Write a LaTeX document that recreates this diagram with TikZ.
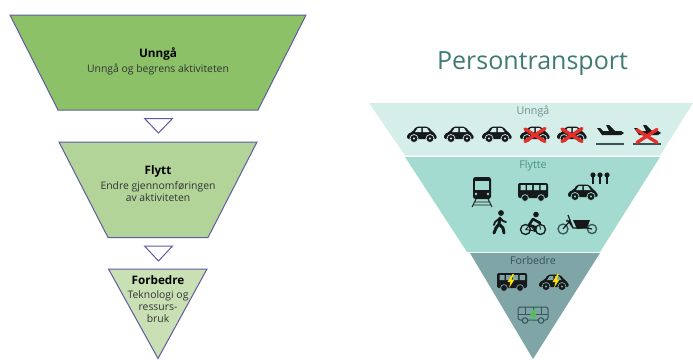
\documentclass[tikz,border=0pt]{standalone}
\usepackage{fontspec}
\setmainfont{Open Sans}
\definecolor{edgeP}{HTML}{5F5C9F}
\definecolor{gA}{HTML}{8CC168}
\definecolor{gB}{HTML}{B2D498}
\definecolor{gC}{HTML}{C9E0B5}
\definecolor{tA}{HTML}{D5EEEA}
\definecolor{tB}{HTML}{A3DBD1}
\definecolor{tC}{HTML}{7FA5A7}
\definecolor{titleC}{HTML}{3F7A74}
\definecolor{labA}{HTML}{6F8F8C}
\definecolor{labB}{HTML}{4F8F88}
\definecolor{labC}{HTML}{34565A}
\definecolor{ink}{HTML}{15191A}
\definecolor{crossR}{HTML}{E5302A}
\tikzset{
  x=1pt,y=-1pt,
  band/.style={draw=edgeP,line width=1pt,line join=miter},
  lefttitle/.style={font=\fontsize{11.7}{13}\selectfont\bfseries,text=black,inner sep=0pt},
  lefttext/.style={font=\fontsize{10.4}{12.4}\selectfont,text=black!80,inner sep=0pt,align=center},
  sidelabel/.style={font=\fontsize{10.7}{12}\selectfont,inner sep=0pt},
  pics/carpic/.style={code={
    \fill[ink,rounded corners=2pt] (-15,5)--(-15,0)--(-9.5,-2)--(-6,-7.5)--(6,-7.5)--(10.5,-2)--(14,0)--(15,5)--cycle;
    \fill[#1] (-7,-2)--(-4.4,-5.8)--(-0.6,-5.8)--(-0.6,-2)--cycle (0.8,-2)--(0.8,-5.8)--(5,-5.8)--(7.6,-2)--cycle;
    \fill[ink,draw=#1,line width=.7pt] (-8,4.5) circle (4) (8,4.5) circle (4);
    \fill[#1] (-8,4.5) circle (1.1) (8,4.5) circle (1.1);
  }},
  pics/buspic/.style={code={
    \fill[ink,rounded corners=2pt] (-15,-9) rectangle (15,6);
    \fill[#1] (-12.5,-7) rectangle (-7.5,-2) (-6,-7) rectangle (-.8,-2) (.8,-7) rectangle (6,-2) (7.5,-7) rectangle (13,-2);
    \fill[ink,draw=#1,line width=.7pt] (-8,6) circle (3.4) (8,6) circle (3.4);
  }},
  pics/outlinebus/.style={code={
    \draw[labC,line width=1pt,rounded corners=2.5pt] (-15,-8) rectangle (15,5);
    \draw[labC,line width=.8pt] (-15,-1)--(15,-1) (-8,-8)--(-8,-1) (0,-8)--(0,-1) (8,-8)--(8,-1);
    \draw[labC,fill=tC,line width=1pt] (-8,5.5) circle (2.8) (8,5.5) circle (2.8);
  }},
  pics/trainpic/.style={code={
    \fill[ink,rounded corners=2.5pt] (-9,-15) rectangle (9,7);
    \fill[tB] (-7,-11) rectangle (7,-2);
    \fill[tB] (-6,2) circle (1.3) (6,2) circle (1.3);
    \draw[ink,line width=.9pt] (-6,7)--(-10,15) (6,7)--(10,15) (-8,10)--(8,10) (-9,13)--(9,13);
  }},
  pics/planepic/.style={code={
    \fill[ink] (-13,-7)--(-10,-7)--(-7,-4)--(-1,-4)--(-4,-10)--(-1,-10)--(5,-4)--(11,-4)--(14,-2)--(11,0)--(-8,0)--cycle;
    \draw[labC,line width=1.5pt] (-14,9)--(14,9);
  }},
  pics/walkerpic/.style={code={
    \fill[ink] (1,-9) circle (2.9);
    \draw[ink,line width=3pt,line cap=round,line join=round] (0,-4)--(-1,2)--(3,6)--(4,11) (-1,2)--(-4,6)--(-6,11);
    \draw[ink,line width=1.8pt,line cap=round,line join=round] (0,-4)--(-5,0)--(-6,3) (0,-4)--(3,-1)--(6,0);
  }},
  pics/cyclistpic/.style={code={
    \draw[ink,line width=1.3pt] (-7.5,5.5) circle (5) (7.5,5.5) circle (5);
    \fill[ink] (3,-9.5) circle (2.8);
    \draw[ink,line width=2.6pt,line cap=round,line join=round] (0,-5)--(-4,1)--(2,3)--(2,7) (0,-5)--(7,-1);
    \draw[ink,line width=.9pt] (-7.5,5.5)--(-3,1)--(2,7)--(-7.5,5.5) (7.5,5.5)--(6,-2);
  }},
  pics/cargopic/.style={code={
    \draw[labC,line width=1.3pt] (-14,5) circle (5) (15,5) circle (4.6);
    \fill[ink] (-4,-4)--(13,-4)--(10,4)--(0,5)--cycle;
    \draw[ink,line width=1.2pt] (-14,5)--(-8,-2)--(-4,4)--(10,4)--(15,5) (-8,-2)--(-10,-4) (-4,4)--(-9,-9) (-11,-3)--(-7,-3);
  }},
  pics/keypic/.style={code={
    \fill[ink] (0,-3) circle (2.6);
    \draw[ink,line width=1.7pt] (0,-3)--(0,5.5);
  }},
  pics/crosspic/.style={code={
    \draw[crossR,line width=3.4pt,line cap=round] (-10,-6)--(10,6.5) (10,-6.5)--(-10,6.5);
  }},
  pics/boltpic/.style={code={
    \fill[#1] (1.5,-7)--(-3.5,1)--(-.5,1)--(-2,7)--(3.5,-1.5)--(.5,-1.5)--(3,-7)--cycle;
  }}
}
\begin{document}
\begin{tikzpicture}
\useasboundingbox (0,0) rectangle (693,359);
\fill[white] (0,0) rectangle (693,359);
% left funnel
\draw[band,fill=gA] (10,15)--(306,15)--(258,110)--(58,110)--cycle;
\draw[band,fill=white] (144.5,118.5)--(172.5,118.5)--(158.5,133)--cycle;
\draw[band,fill=gB] (59,142)--(257,142)--(208,237.5)--(108,237.5)--cycle;
\draw[band,fill=white] (144.5,246)--(172.5,246)--(158.5,261)--cycle;
\draw[band,fill=gC] (108.5,269)--(207,269)--(158,358.5)--cycle;
\node[lefttitle] (ltA) at (158,54) {Unngå};
\node[lefttext] (lsA) at (158,69.5) {Unngå og begrens aktiviteten};
\node[lefttitle] (ltB) at (158,171) {Flytt};
\node[lefttext] (lsB) at (158,191.5) {Endre gjennomføringen\\av aktiviteten};
\node[lefttitle] (ltC) at (158,280) {Forbedre};
\node[lefttext] (lsC) at (158,306.5) {Teknologi og\\ressurs-\\bruk};
% right funnel
\fill[tA] (369,103)--(693,103)--(660,155.5)--(405,155.5)--cycle;
\fill[tB] (405,157)--(660,157)--(600,252)--(467,252)--cycle;
\fill[tC] (470,253)--(600,253)--(533,359)--cycle;
\node[font=\fontsize{25}{30}\selectfont,text=titleC,inner sep=0pt] (title) at (532.5,64) {Persontransport};
\node[sidelabel,text=labA] (rlA) at (533,111.5) {Unngå};
\node[sidelabel,text=labB] (rlB) at (533,166) {Flytte};
\node[sidelabel,text=labC] (rlC) at (533,260) {Forbedre};
% row 1
\pic at (422,134) {carpic=tA};
\pic at (459,134) {carpic=tA};
\pic at (497,134) {carpic=tA};
\pic at (535,134) {carpic=tA};
\pic at (535,135) {crosspic};
\pic at (572,134) {carpic=tA};
\pic at (572,135) {crosspic};
\pic at (610,135) {planepic};
\pic at (647,135) {planepic};
\pic at (647,136) {crosspic};
% row 2
\pic at (482,192) {trainpic};
\pic at (533,192) {buspic=tB};
\pic at (583,192) {carpic=tB};
\pic at (593,178) {keypic};
\pic at (600,178) {keypic};
\pic at (607,178) {keypic};
\pic at (500,222) {walkerpic};
\pic at (533,224) {cyclistpic};
\pic at (577,224) {cargopic};
% row 3
\pic at (512,282) {buspic=tC};
\pic at (511,281) {boltpic=yellow!85!orange};
\pic at (554,282) {carpic=tC};
\pic at (556,281) {boltpic=yellow!85!orange};
\pic at (533,315) {outlinebus};
\pic at (533,315) {boltpic=green!65!black!70!white};
\end{tikzpicture}
\end{document}
